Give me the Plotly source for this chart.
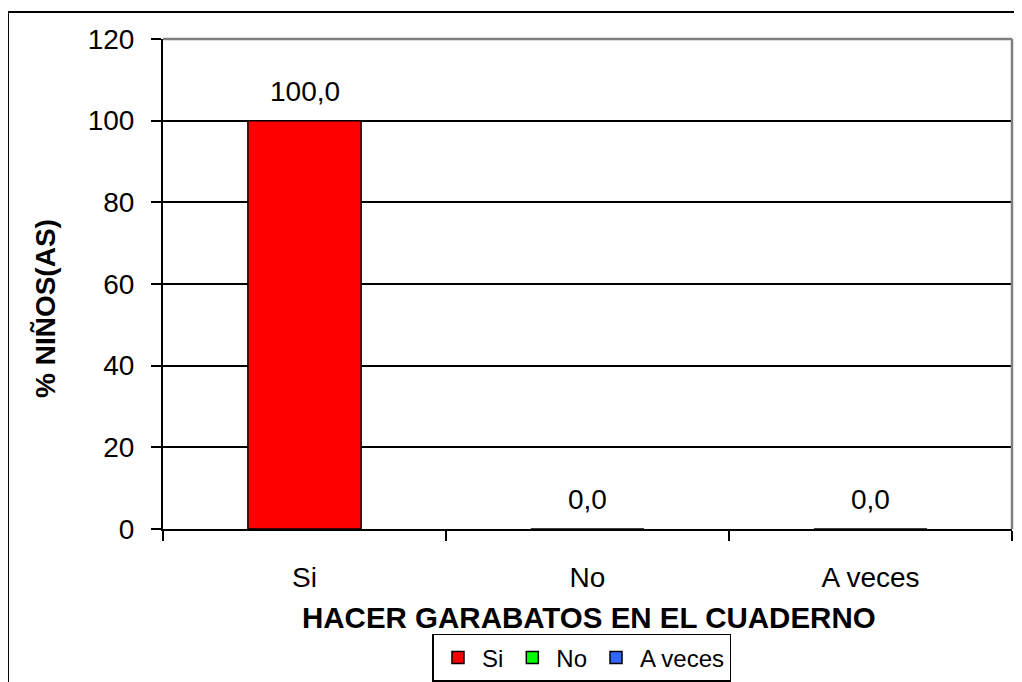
"""Bar chart: hacer garabatos en el cuaderno."""

import plotly.graph_objects as go

categories = ["Si", "No", "A veces"]
percentages = [100.0, 0.0, 0.0]
colors = ["#FF0000", "#00FF00", "#3366FF"]
y_ticks = [0, 20, 40, 60, 80, 100, 120]

FONT = "Liberation Sans, Arial, sans-serif"

fig = go.Figure()

for cat, val, col in zip(categories, percentages, colors):
    fig.add_trace(go.Bar(
        x=[cat],
        y=[val],
        name=cat,
        marker=dict(color=col, line=dict(color="black", width=1.5)),
        width=0.4,
    ))
    fig.add_annotation(
        x=cat, y=val, text=f"{val:.1f}".replace(".", ","),
        showarrow=False, yanchor="bottom", yshift=12,
        font=dict(family=FONT, size=28, color="black"),
    )

# axis titles placed as annotations so they can sit where the original has them
fig.add_annotation(
    xref="paper", yref="paper", x=0.502, y=-0.18,
    text="<b>HACER GARABATOS EN EL CUADERNO</b>", showarrow=False,
    xanchor="center", yanchor="middle",
    font=dict(family=FONT, size=29.5, color="black"),
)
fig.add_annotation(
    xref="paper", yref="paper", x=-0.139, y=0.451,
    text="<b>% NIÑOS(AS)</b>", showarrow=False, textangle=-90,
    xanchor="center", yanchor="middle",
    font=dict(family=FONT, size=28, color="black"),
)

fig.update_layout(
    width=1022,
    height=682,
    barmode="overlay",
    paper_bgcolor="white",
    plot_bgcolor="white",
    margin=dict(l=155, r=18, t=31, b=161, autoexpand=False),
    font=dict(family=FONT, color="black"),
    showlegend=True,
    legend=dict(
        orientation="h",
        x=0.4935, xanchor="center",
        y=-0.263, yanchor="middle",
        bordercolor="black", borderwidth=1.5,
        font=dict(size=24),
        itemwidth=38,
        traceorder="normal",
    ),
)

fig.update_xaxes(
    categoryorder="array",
    categoryarray=categories,
    showline=True, linecolor="black", linewidth=2,
    ticks="outside", tickson="boundaries", ticklen=10, tickwidth=2, tickcolor="black",
    tickfont=dict(size=28),
    ticklabelstandoff=22,
    automargin=False,
)

fig.update_yaxes(
    range=[0, 120],
    tickvals=y_ticks,
    showline=True, linecolor="black", linewidth=2,
    showgrid=True, gridcolor="black", gridwidth=1.5,
    ticks="outside", ticklen=10, tickwidth=2, tickcolor="black",
    tickfont=dict(size=28),
    ticklabelstandoff=11,
    zeroline=False,
    automargin=False,
)

# gray plot-area frame on top and right
fig.add_shape(type="line", xref="paper", yref="paper", x0=0, x1=1, y0=1, y1=1,
              line=dict(color="#808080", width=2.5), layer="above")
fig.add_shape(type="line", xref="paper", yref="paper", x0=1, x1=1, y0=0, y1=1,
              line=dict(color="#808080", width=2.5), layer="above")

# outer chart border (only left and top fall inside the window)
fig.add_shape(type="rect", xref="paper", yref="paper",
              x0=-0.1826, x1=1.2, y0=-0.5, y1=1.0551,
              line=dict(color="black", width=2), layer="above")

fig.write_html("out.html")
